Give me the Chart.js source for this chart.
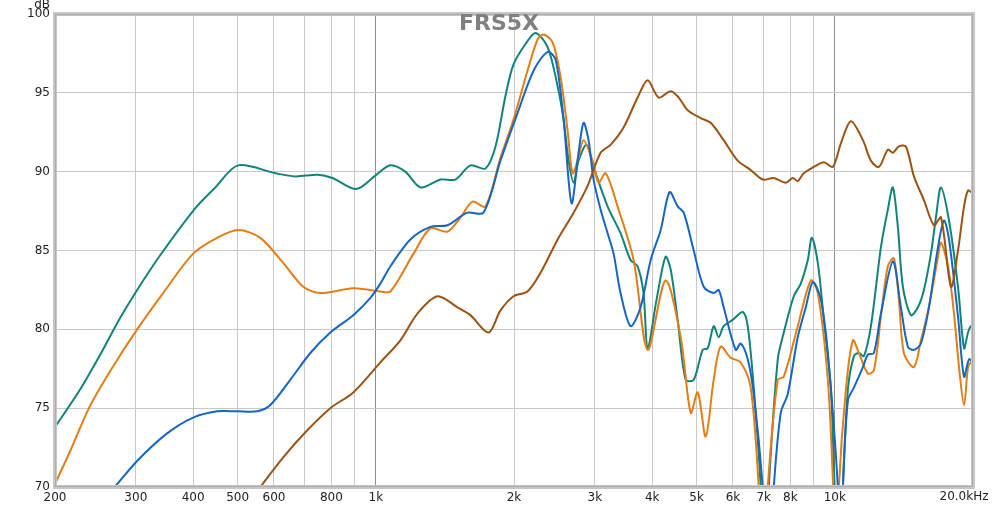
<!DOCTYPE html>
<html>
<head>
<meta charset="utf-8">
<title>FRS5X</title>
<script src="https://cdn.jsdelivr.net/npm/chart.js@4/dist/chart.umd.min.js"></script>
<style>
  html, body { margin: 0; padding: 0; background: #fff; }
  canvas { display: block; }
</style>
</head>
<body>
<canvas id="frChart" width="1000" height="506"></canvas>
<script>
// ---------------------------------------------
// Data (Hz / dB)
// ---------------------------------------------
const xTicks = [200, 300, 400, 500, 600, 700, 800, 900, 1000, 2000, 3000, 4000, 5000, 6000, 7000, 8000, 9000, 10000, 20000];
const xTickLabels = ["200", "300", "400", "500", "600", "", "800", "", "1k", "2k", "3k", "4k", "5k", "6k", "7k", "8k", "", "10k", ""];
const xEndLabel = "20.0kHz";
const yUnit = "dB";

const tealHz = [200, 227, 251, 277, 302, 339, 402, 447, 501, 604, 667, 749, 804, 907, 1002, 1076, 1159, 1251, 1384, 1490, 1607, 1733, 1823, 1916, 1995, 2119, 2229, 2368, 2490, 2565, 2630, 2697, 2765, 2878, 2981, 3198, 3413, 3589, 3718, 3830, 3910, 4090, 4277, 4389, 4546, 4732, 4927, 5154, 5285, 5446, 5584, 5725, 5991, 6300, 6460, 6658, 6897, 7040, 7179, 7510, 7741, 8139, 8430, 8732, 8911, 9183, 9464, 9803, 9952, 10205, 10413, 10678, 11005, 11284, 11571, 11983, 12600, 13047, 13379, 13718, 14068, 14646, 15170, 15635, 16195, 16608, 17032, 17732, 18550, 19121, 19508, 19805, 20000];
const tealDb = [73.8, 76.2, 78.4, 80.7, 82.5, 84.7, 87.6, 89.0, 90.4, 89.9, 89.7, 89.8, 89.6, 88.9, 89.8, 90.4, 90.0, 89.0, 89.5, 89.5, 90.4, 90.2, 91.6, 94.8, 96.8, 98.1, 98.8, 97.9, 95.4, 93.3, 90.7, 89.3, 90.7, 91.7, 90.3, 87.8, 86.1, 84.4, 84.0, 82.3, 78.8, 81.9, 84.6, 83.8, 80.6, 76.8, 76.8, 78.7, 78.8, 80.2, 79.5, 80.2, 80.6, 81.1, 80.2, 76.3, 70.0, 64.0, 70.0, 78.1, 79.8, 82.1, 82.9, 84.4, 85.8, 84.2, 80.6, 76.3, 71.3, 64.0, 70.0, 76.2, 78.3, 78.5, 78.3, 80.2, 85.2, 87.6, 89.0, 86.5, 82.7, 80.9, 81.4, 82.5, 84.8, 87.1, 89.0, 86.9, 82.7, 78.8, 79.8, 80.2, 80.0];

const orangeHz = [200, 216, 238, 267, 302, 344, 400, 451, 501, 560, 629, 695, 757, 893, 1023, 1076, 1208, 1315, 1433, 1529, 1624, 1733, 1869, 1995, 2140, 2252, 2321, 2428, 2527, 2617, 2683, 2751, 2835, 2966, 3057, 3166, 3362, 3644, 3910, 4277, 4615, 4853, 5027, 5233, 5446, 5640, 5931, 6237, 6558, 6828, 7001, 7143, 7510, 7741, 8303, 8866, 9183, 9655, 9902, 10100, 10205, 10571, 10949, 11284, 11805, 12166, 12600, 13047, 13446, 13788, 14139, 14869, 15401, 16032, 16776, 17032, 17643, 18182, 18644, 19121, 19508, 19805, 20000];
const orangeDb = [70.2, 72.3, 75.1, 77.6, 80.0, 82.3, 84.8, 85.8, 86.3, 85.8, 84.2, 82.7, 82.3, 82.6, 82.4, 82.4, 84.8, 86.4, 86.2, 87.1, 88.1, 87.8, 90.9, 93.3, 96.4, 98.4, 98.7, 98.2, 96.0, 92.6, 89.9, 90.7, 92.0, 90.7, 89.3, 89.9, 87.8, 84.4, 78.7, 83.1, 79.5, 74.7, 76.0, 73.2, 76.8, 78.9, 78.2, 77.9, 76.3, 70.0, 64.0, 70.0, 76.8, 77.0, 80.2, 83.1, 82.3, 76.8, 70.5, 64.0, 70.0, 76.2, 79.3, 78.5, 77.2, 77.4, 80.8, 84.0, 84.5, 81.9, 78.5, 77.6, 79.3, 81.4, 84.6, 85.5, 84.0, 81.0, 77.6, 75.2, 77.6, 77.9, 77.6];

const blueHz = [270, 303, 351, 400, 451, 499, 552, 589, 651, 720, 796, 893, 973, 1023, 1076, 1189, 1315, 1433, 1583, 1716, 1869, 2035, 2206, 2368, 2465, 2565, 2669, 2765, 2835, 2907, 2981, 3088, 3198, 3296, 3413, 3589, 3774, 3970, 4175, 4365, 4546, 4686, 4927, 5180, 5446, 5584, 5725, 6082, 6237, 6460, 6658, 6966, 7150, 7361, 7624, 7897, 8303, 8645, 8955, 9322, 9655, 10154, 10309, 10413, 10678, 11005, 11513, 11805, 12166, 12600, 13379, 13928, 14426, 14869, 15401, 16032, 16776, 17292, 17732, 18550, 19121, 19606, 20000];
const blueDb = [70.0, 71.7, 73.4, 74.4, 74.8, 74.8, 74.8, 75.2, 76.8, 78.5, 79.8, 80.9, 82.0, 82.9, 84.0, 85.7, 86.5, 86.6, 87.4, 87.4, 90.7, 93.7, 96.4, 97.6, 97.1, 93.3, 88.0, 91.2, 93.1, 92.0, 89.5, 87.6, 86.1, 84.8, 82.3, 80.2, 81.4, 84.4, 86.3, 88.7, 87.8, 87.4, 85.0, 82.7, 82.3, 82.5, 81.4, 78.7, 79.1, 78.1, 75.9, 70.0, 64.0, 70.0, 74.7, 75.9, 79.5, 81.4, 83.0, 81.9, 78.5, 70.0, 64.0, 70.0, 75.5, 76.3, 77.6, 78.4, 78.5, 81.0, 84.3, 81.4, 78.9, 78.7, 79.1, 81.4, 85.2, 86.9, 85.7, 80.8, 77.0, 78.1, 77.9];

const brownHz = [560, 629, 709, 796, 893, 1023, 1131, 1232, 1362, 1506, 1607, 1760, 1869, 1995, 2140, 2286, 2490, 2697, 2893, 3088, 3246, 3465, 3718, 3910, 4133, 4389, 4569, 4780, 5103, 5365, 5725, 6144, 6558, 6966, 7361, 7818, 8098, 8303, 8558, 9000, 9464, 9902, 10309, 10840, 11513, 11983, 12475, 13047, 13379, 13788, 14282, 14869, 15635, 16442, 17032, 17910, 18550, 19121, 19508, 20000];
const brownDb = [70.0, 71.9, 73.6, 75.0, 76.0, 77.9, 79.3, 81.0, 82.1, 81.4, 80.9, 79.8, 81.2, 82.1, 82.4, 83.6, 85.7, 87.4, 89.1, 91.2, 91.7, 92.8, 94.7, 95.8, 94.7, 95.1, 94.7, 93.9, 93.4, 93.1, 92.0, 90.7, 90.1, 89.5, 89.6, 89.3, 89.6, 89.4, 89.9, 90.3, 90.6, 90.3, 91.8, 93.2, 92.0, 90.7, 90.3, 91.4, 91.2, 91.6, 91.6, 89.7, 88.2, 86.6, 87.1, 82.7, 85.0, 87.8, 88.8, 88.6];

const FONT = "'DejaVu Sans', sans-serif";

function points(hz, db) {
    return hz.map((f, i) => ({ x: f, y: db[i] }));
}

// ---------------------------------------------
// Frame, title and axis end labels
// ---------------------------------------------
const framePlugin = {
    id: "frame",
    afterDatasetsDraw(chart) {
        const { ctx, chartArea: a } = chart;
        ctx.save();
        ctx.strokeStyle = "#c6c6c6";
        ctx.lineWidth = 4;
        ctx.strokeRect(a.left, a.top, a.right - a.left, a.bottom - a.top);
        ctx.strokeStyle = "#acacac";
        ctx.lineWidth = 1;
        ctx.strokeRect(a.left + 0.5, a.top + 0.5, a.right - a.left - 1, a.bottom - a.top - 1);

        ctx.fillStyle = "#808080";
        ctx.font = "bold 22px " + FONT;
        ctx.textAlign = "center";
        ctx.textBaseline = "middle";
        ctx.fillText("FRS5X", 499, 24);

        ctx.fillStyle = "#222";
        ctx.font = "12px " + FONT;
        ctx.textAlign = "right";
        ctx.fillText(yUnit, 50, 5);

        ctx.textAlign = "center";
        ctx.fillText(xEndLabel, a.right - 9, 497);
        ctx.restore();
    }
};

// ---------------------------------------------
// Chart
// ---------------------------------------------
const datasets = [
    { data: points(brownHz, brownDb), borderColor: "#9c5312" },
    { data: points(blueHz, blueDb), borderColor: "#1666c2" },
    { data: points(orangeHz, orangeDb), borderColor: "#e47d14" },
    { data: points(tealHz, tealDb), borderColor: "#12837a" }
];

new Chart(document.getElementById("frChart"), {
    type: "line",
    data: { datasets: datasets },
    options: {
        responsive: false,
        animation: false,
        layout: { padding: { top: 14, right: 27, left: 0, bottom: 0 } },
        plugins: { legend: { display: false }, tooltip: { enabled: false } },
        elements: {
            point: { radius: 0 },
            line: { borderWidth: 2, tension: 0.3, fill: false }
        },
        scales: {
            x: {
                type: "logarithmic",
                min: 200,
                max: 20000,
                afterBuildTicks: s => { s.ticks = xTicks.map(v => ({ value: v })); },
                afterFit: s => { s.height = 19; },
                ticks: {
                    autoSkip: false,
                    maxRotation: 0,
                    padding: 4,
                    color: "#222",
                    font: { family: FONT, size: 12 },
                    callback: v => {
                        const i = xTicks.indexOf(v);
                        return i >= 0 ? xTickLabels[i] : "";
                    }
                },
                grid: {
                    drawTicks: false,
                    color: c => (c.tick && (c.tick.value === 1000 || c.tick.value === 10000)) ? "#8c8c8c" : "#c8c8c8"
                },
                border: { display: false }
            },
            y: {
                min: 70,
                max: 100,
                afterFit: s => { s.width = 55; },
                ticks: {
                    stepSize: 5,
                    padding: 5,
                    color: "#222",
                    font: { family: FONT, size: 12 }
                },
                grid: { drawTicks: false, color: "#c8c8c8" },
                border: { display: false }
            }
        }
    },
    plugins: [framePlugin]
});
</script>
</body>
</html>
